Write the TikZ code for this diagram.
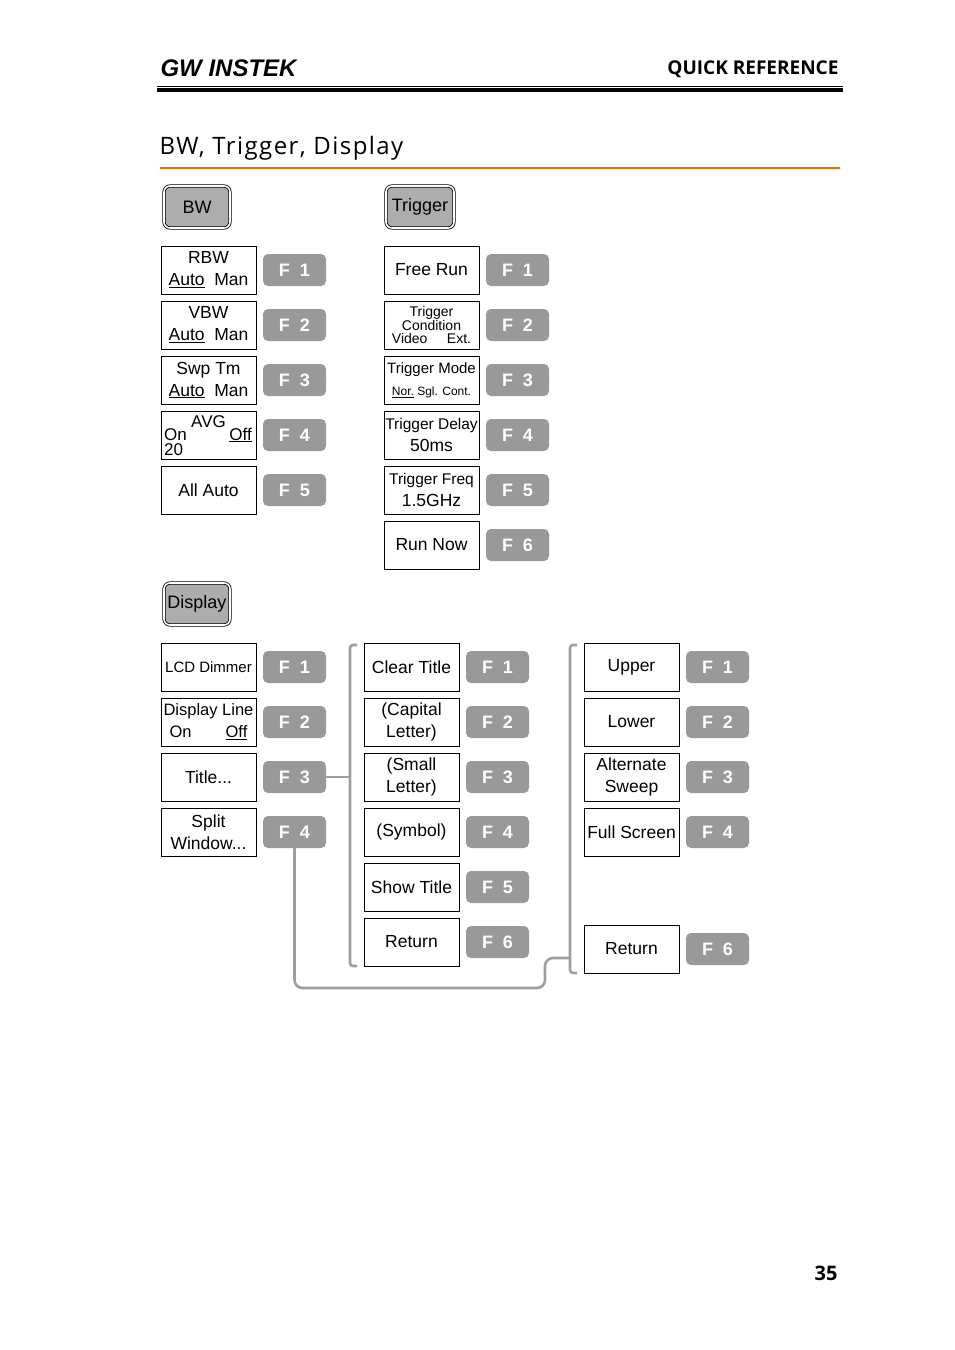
\documentclass[tikz,border=0pt]{standalone}
\usepackage{fontspec}
\setmainfont{Liberation Sans}
\newfontfamily\headfont{Open Sans}
\newfontfamily\titlefont[LetterSpace=6]{Open Sans}
\usepackage{tikz}
\usetikzlibrary{positioning, calc}
\colorlet{key gray}{black!40}
\colorlet{link gray}{black!38}
\definecolor{rule orange}{HTML}{F06A10}
\tikzset{menubox/.style={draw, line width=0.9pt, minimum width=95pt, minimum height=48pt, inner sep=1pt, align=center, font=\fontsize{17.5}{22}\selectfont}}
\tikzset{fkey/.style={fill=key gray, rounded corners=5pt, minimum width=63pt, minimum height=32pt, text=white, font=\fontsize{18}{20}\selectfont\bfseries}}
\tikzset{hardkey/.style={draw, double, double distance=1.6pt, line width=0.8pt, fill=key gray!80, rounded corners=6pt, minimum width=66pt, minimum height=42pt, inner sep=0pt, font=\fontsize{18}{20}\selectfont}}
\tikzset{link/.style={line width=2.6pt, link gray, rounded corners=8pt}}

\begin{document}
\begin{tikzpicture}[x=1pt, y=-1pt]
                \useasboundingbox (0,0) rectangle (954,1350);
                % header
                \node[anchor=west, font=\fontsize{24}{24}\selectfont\bfseries\itshape] (logo) at (157,68) {GW INSTEK};
                \node[anchor=east, font=\headfont\fontsize{19}{19}\selectfont\bfseries] (quick) at (842,69) {QUICK REFERENCE};
                \draw[line width=1pt] (157,86) -- (843,86);
                \draw[line width=3.5pt] (157,90) -- (843,90);
                \node[anchor=west, font=\titlefont\fontsize{24}{24}\selectfont] (title) at (156,148) {BW, Trigger, Display};
                \draw[rule orange, line width=2pt] (160,168) -- (840,168);
                \node[anchor=east, font=\headfont\fontsize{20}{20}\selectfont\bfseries] (page) at (841,1273) {35};
                
                % hard keys
                \node[hardkey] (bw) at (197,207) {BW};
                \node[hardkey, minimum width=68pt] (trigger) at (420,207) {Trigger};
                \node[hardkey] (display) at (197,604) {Display};
                
                % BW menu
                \node[menubox] (rbw) at (208.5,270) {RBW\\\underline{Auto}\ \ Man};
                \node[menubox] (vbw) at (208.5,325) {VBW\\\underline{Auto}\ \ Man};
                \node[menubox] (swp) at (208.5,380) {Swp Tm\\\underline{Auto}\ \ Man};
                \node[menubox] (avg) at (208.5,435) {};
                \node[font=\fontsize{17}{17}\selectfont, inner sep=0pt] at (208.5,422) {AVG};
                \node[anchor=west, inner sep=0pt, font=\fontsize{17}{17}\selectfont] at (164,435) {On};
                \node[anchor=east, inner sep=0pt, font=\fontsize{17}{17}\selectfont] at (252,435) {\underline{Off}};
                \node[anchor=west, inner sep=0pt, font=\fontsize{17}{17}\selectfont] at (164,450) {20};
                \node[menubox] (allauto) at (208.5,490) {All Auto};
                \foreach \n/\y in {1/270, 2/325, 3/380, 4/435, 5/490}
                    \node[fkey] (bwf\n) at (294.5,\y) {F\ \ \n};
                
                % Trigger menu
                \node[menubox] (freerun) at (431.5,270) {Free Run};
                \node[menubox, font=\fontsize{14}{12.5}\selectfont] (cond) at (431.5,325) {Trigger\\Condition\\Video\ \ \ \ \ Ext.};
                \node[menubox] (mode) at (431.5,380) {\fontsize{15}{19}\selectfont Trigger Mode\\\fontsize{12}{14}\selectfont\underline{Nor.} Sgl. Cont.};
                \node[menubox] (delay) at (431.5,435) {\fontsize{15.5}{22}\selectfont Trigger Delay\\\fontsize{17.5}{22}\selectfont 50ms};
                \node[menubox] (freq) at (431.5,490) {\fontsize{15.5}{22}\selectfont Trigger Freq\\\fontsize{17.5}{22}\selectfont 1.5GHz};
                \node[menubox] (runnow) at (431.5,545) {Run Now};
                \foreach \n/\y in {1/270, 2/325, 3/380, 4/435, 5/490, 6/545}
                    \node[fkey] (trf\n) at (517.5,\y) {F\ \ \n};
                
                % Display menu
                \node[menubox, font=\fontsize{15}{17}\selectfont] (lcd) at (208.5,667) {LCD Dimmer};
                \node[menubox, font=\fontsize{16.5}{22}\selectfont] (line) at (208.5,722) {Display Line\\On\hspace{34pt}\underline{Off}};
                \node[menubox] (titlekey) at (208.5,777) {Title...};
                \node[menubox] (split) at (208.5,832) {Split\\Window...};
                \foreach \n/\y in {1/667, 2/722, 3/777, 4/832}
                    \node[fkey] (dpf\n) at (294.5,\y) {F\ \ \n};
                
                % Title submenu
                \node[menubox] (clear) at (411.5,667) {Clear Title};
                \node[menubox] (capital) at (411.5,722) {(Capital\\Letter)};
                \node[menubox] (small) at (411.5,777) {(Small\\Letter)};
                \node[menubox] (symbol) at (411.5,832) {(Symbol)};
                \node[menubox] (show) at (411.5,887) {Show Title};
                \node[menubox] (return1) at (411.5,942) {Return};
                \foreach \n/\y in {1/667, 2/722, 3/777, 4/832, 5/887, 6/942}
                    \node[fkey] (tif\n) at (497.5,\y) {F\ \ \n};
                
                % Split window submenu
                \node[menubox] (upper) at (631.5,667) {Upper};
                \node[menubox] (lower) at (631.5,722) {Lower};
                \node[menubox] (alt) at (631.5,777) {Alternate\\Sweep};
                \node[menubox] (full) at (631.5,832) {Full Screen};
                \node[menubox] (return2) at (631.5,949) {Return};
                \foreach \n/\y in {1/667, 2/722, 3/777, 4/832}
                    \node[fkey] (spf\n) at (717.5,\y) {F\ \ \n};
                \node[fkey] (spf6) at (717.5,949) {F\ \ 6};
                
                % brackets and links
                \draw[link, rounded corners=3pt] (357,645) -- (350,645) -- (350,966) -- (357,966);
                \draw[link, rounded corners=3pt] (577,645) -- (570,645) -- (570,973) -- (577,973);
                \coordinate (titlebracket) at (350,777);
                \coordinate (splitbracket) at (570,958);
                \draw[link] (dpf3.east) -- (titlebracket);
                \draw[link] (dpf4.south) |- (545,988) |- (splitbracket);
\end{tikzpicture}
\end{document}
